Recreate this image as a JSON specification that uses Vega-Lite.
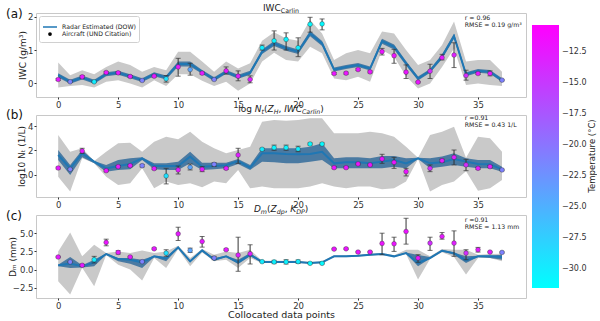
{
"$schema": "https://vega.github.io/schema/vega-lite/v6.json",
"autosize": {"type": "pad"},
"padding": {"left": 5, "top": 3, "right": 0, "bottom": 0},
"background": "white",
"spacing": 18,
"bounds": "flush",
"resolve": {"legend": {"shape": "independent", "fill": "independent", "stroke": "independent", "size": "independent"}, "scale": {"shape": "independent", "fill": "independent", "stroke": "independent", "size": "independent"}},
"config": {
  "font": "DejaVu Sans",
  "view": {"stroke": "#c8c8c8", "strokeWidth": 1},
  "axis": {"grid": false, "domain": false, "labelOverlap": false, "labelFont": "DejaVu Sans", "labelFontSize": 8.5, "labelColor": "#333", "tickColor": "#333", "tickSize": 2, "labelPadding": 1, "titleFont": "DejaVu Sans", "titleFontSize": 9, "titleFontWeight": "normal", "titleColor": "#222"},
  "legend": {"labelFont": "DejaVu Sans", "titleFont": "DejaVu Sans"}
},
"datasets": {
"iwc": [
{"i":0,"med":0.24,"lo":0.17,"hi":0.30,"min":-0.13,"max":0.62,"obs":0.11,"olo":0.08,"ohi":0.14,"t":-12.5},
{"i":1,"med":0.04,"lo":-0.02,"hi":0.10,"min":-0.09,"max":0.24,"obs":0.04,"olo":0.02,"ohi":0.06,"t":-21},
{"i":2,"med":0.17,"lo":0.11,"hi":0.23,"min":-0.06,"max":0.39,"obs":0.19,"olo":0.15,"ohi":0.23,"t":-12.5},
{"i":3,"med":0.04,"lo":-0.02,"hi":0.10,"min":-0.13,"max":0.27,"obs":0.04,"olo":0.02,"ohi":0.06,"t":-30},
{"i":4,"med":0.27,"lo":0.21,"hi":0.33,"min":0.04,"max":0.49,"obs":0.32,"olo":0.29,"ohi":0.35,"t":-12},
{"i":5,"med":0.31,"lo":0.25,"hi":0.37,"min":0.09,"max":0.65,"obs":0.31,"olo":0.28,"ohi":0.34,"t":-12.5},
{"i":6,"med":0.21,"lo":0.15,"hi":0.27,"min":-0.01,"max":0.55,"obs":0.20,"olo":0.17,"ohi":0.23,"t":-12.5},
{"i":7,"med":0.09,"lo":0.03,"hi":0.15,"min":-0.13,"max":0.34,"obs":0.08,"olo":0.06,"ohi":0.10,"t":-21},
{"i":8,"med":0.27,"lo":0.21,"hi":0.33,"min":0.09,"max":0.49,"obs":0.21,"olo":0.18,"ohi":0.24,"t":-12.5},
{"i":9,"med":0.17,"lo":0.11,"hi":0.23,"min":-0.09,"max":0.39,"obs":0.13,"olo":0.03,"ohi":0.23,"t":-29},
{"i":10,"med":0.58,"lo":0.50,"hi":0.65,"min":0.27,"max":0.95,"obs":0.49,"olo":0.21,"ohi":0.75,"t":-12.5},
{"i":11,"med":0.58,"lo":0.50,"hi":0.65,"min":0.27,"max":0.95,"obs":0.41,"olo":0.24,"ohi":0.60,"t":-24},
{"i":12,"med":0.34,"lo":0.28,"hi":0.40,"min":0.07,"max":0.65,"obs":0.30,"olo":0.27,"ohi":0.33,"t":-12.5},
{"i":13,"med":0.12,"lo":0.06,"hi":0.18,"min":-0.09,"max":0.34,"obs":0.11,"olo":0.09,"ohi":0.13,"t":-21},
{"i":14,"med":0.34,"lo":0.28,"hi":0.40,"min":0.04,"max":0.65,"obs":0.37,"olo":0.27,"ohi":0.49,"t":-12.5},
{"i":15,"med":0.19,"lo":0.13,"hi":0.25,"min":-0.23,"max":0.44,"obs":0.21,"olo":0.07,"ohi":0.37,"t":-13},
{"i":16,"med":0.31,"lo":0.25,"hi":0.37,"min":-0.01,"max":0.60,"obs":0.11,"olo":0.01,"ohi":0.22,"t":-13},
{"i":17,"med":0.95,"lo":0.88,"hi":1.02,"min":0.65,"max":1.28,"obs":1.07,"olo":1.00,"ohi":1.15,"t":-30},
{"i":18,"med":1.20,"lo":1.12,"hi":1.27,"min":0.92,"max":1.54,"obs":1.28,"olo":1.00,"ohi":1.58,"t":-30.5},
{"i":19,"med":1.05,"lo":0.98,"hi":1.12,"min":0.70,"max":1.35,"obs":1.32,"olo":1.00,"ohi":1.52,"t":-30.5},
{"i":20,"med":0.95,"lo":0.88,"hi":1.02,"min":0.65,"max":1.28,"obs":1.07,"olo":0.80,"ohi":1.37,"t":-30},
{"i":21,"med":1.50,"lo":1.42,"hi":1.58,"min":1.10,"max":1.91,"obs":1.78,"olo":1.54,"ohi":1.99,"t":-31},
{"i":22,"med":1.20,"lo":1.12,"hi":1.27,"min":0.90,"max":1.50,"obs":1.79,"olo":1.61,"ohi":1.94,"t":-31},
{"i":23,"med":0.41,"lo":0.35,"hi":0.47,"min":0.14,"max":0.70,"obs":0.29,"olo":0.26,"ohi":0.32,"t":-12},
{"i":24,"med":0.49,"lo":0.43,"hi":0.55,"min":0.09,"max":0.90,"obs":0.30,"olo":0.27,"ohi":0.33,"t":-12},
{"i":25,"med":0.55,"lo":0.49,"hi":0.61,"min":0.19,"max":1.00,"obs":0.41,"olo":0.38,"ohi":0.44,"t":-12},
{"i":26,"med":0.44,"lo":0.38,"hi":0.50,"min":0.04,"max":0.90,"obs":0.34,"olo":0.31,"ohi":0.37,"t":-12},
{"i":27,"med":1.27,"lo":1.19,"hi":1.34,"min":1.00,"max":1.56,"obs":0.95,"olo":0.85,"ohi":1.05,"t":-12},
{"i":28,"med":1.10,"lo":1.02,"hi":1.17,"min":0.80,"max":1.50,"obs":0.83,"olo":0.60,"ohi":1.02,"t":-12},
{"i":29,"med":0.60,"lo":0.53,"hi":0.67,"min":0.21,"max":1.00,"obs":0.33,"olo":0.14,"ohi":0.55,"t":-12},
{"i":30,"med":0.14,"lo":0.08,"hi":0.20,"min":-0.16,"max":0.55,"obs":0.03,"olo":0.01,"ohi":0.05,"t":-12},
{"i":31,"med":0.37,"lo":0.31,"hi":0.43,"min":-0.01,"max":0.70,"obs":0.36,"olo":0.14,"ohi":0.57,"t":-14},
{"i":32,"med":0.80,"lo":0.73,"hi":0.87,"min":0.49,"max":1.15,"obs":0.77,"olo":0.70,"ohi":0.87,"t":-12.5},
{"i":33,"med":1.42,"lo":1.34,"hi":1.50,"min":1.05,"max":1.86,"obs":0.85,"olo":0.47,"ohi":1.22,"t":-13},
{"i":34,"med":0.27,"lo":0.21,"hi":0.33,"min":-0.06,"max":0.65,"obs":0.23,"olo":0.09,"ohi":0.39,"t":-14},
{"i":35,"med":0.37,"lo":0.31,"hi":0.43,"min":-0.01,"max":0.70,"obs":0.29,"olo":0.26,"ohi":0.32,"t":-12.5},
{"i":36,"med":0.34,"lo":0.28,"hi":0.40,"min":-0.06,"max":0.70,"obs":0.29,"olo":0.22,"ohi":0.37,"t":-12.5},
{"i":37,"med":0.09,"lo":0.03,"hi":0.15,"min":-0.09,"max":0.34,"obs":0.09,"olo":0.07,"ohi":0.11,"t":-21}
],
"nt": [
{"i":0,"med":1.63,"lo":1.22,"hi":2.04,"min":-0.14,"max":3.27,"obs":0.57,"olo":0.50,"ohi":0.64,"t":-12.5},
{"i":1,"med":0.54,"lo":0.00,"hi":0.82,"min":-1.36,"max":1.90,"obs":0.46,"olo":0.40,"ohi":0.52,"t":-21},
{"i":2,"med":1.77,"lo":1.44,"hi":2.04,"min":1.36,"max":2.18,"obs":1.96,"olo":1.77,"ohi":2.18,"t":-12.5},
{"i":3,"med":1.09,"lo":0.95,"hi":1.14,"min":0.95,"max":1.14,"obs":null,"olo":null,"ohi":null,"t":-30},
{"i":4,"med":0.54,"lo":0.27,"hi":0.82,"min":-0.14,"max":1.90,"obs":0.35,"olo":0.27,"ohi":0.43,"t":-12},
{"i":5,"med":0.73,"lo":0.41,"hi":1.22,"min":-0.82,"max":2.59,"obs":0.68,"olo":0.60,"ohi":0.76,"t":-12.5},
{"i":6,"med":0.90,"lo":0.46,"hi":1.36,"min":-0.68,"max":2.64,"obs":0.76,"olo":0.68,"ohi":0.84,"t":-12.5},
{"i":7,"med":1.36,"lo":1.22,"hi":1.44,"min":0.55,"max":1.90,"obs":0.76,"olo":0.66,"ohi":0.86,"t":-21},
{"i":8,"med":0.73,"lo":0.46,"hi":0.95,"min":-1.09,"max":2.72,"obs":0.52,"olo":0.44,"ohi":0.60,"t":-12.5},
{"i":9,"med":0.73,"lo":0.41,"hi":0.95,"min":-0.54,"max":3.13,"obs":-0.08,"olo":-0.73,"ohi":0.54,"t":-29},
{"i":10,"med":0.73,"lo":0.41,"hi":1.09,"min":-0.82,"max":2.91,"obs":0.41,"olo":0.08,"ohi":0.73,"t":-12.5},
{"i":11,"med":1.50,"lo":0.95,"hi":1.90,"min":-0.68,"max":3.54,"obs":0.63,"olo":0.41,"ohi":0.90,"t":-24},
{"i":12,"med":0.68,"lo":0.41,"hi":1.00,"min":-1.00,"max":2.72,"obs":0.46,"olo":0.27,"ohi":0.68,"t":-12.5},
{"i":13,"med":0.73,"lo":0.46,"hi":1.00,"min":-0.54,"max":2.18,"obs":0.87,"olo":0.70,"ohi":1.00,"t":-21},
{"i":14,"med":0.79,"lo":0.54,"hi":1.00,"min":-0.68,"max":1.77,"obs":0.54,"olo":0.46,"ohi":0.62,"t":-12.5},
{"i":15,"med":1.14,"lo":0.90,"hi":1.31,"min":0.41,"max":2.04,"obs":1.63,"olo":0.95,"ohi":2.18,"t":-13},
{"i":16,"med":0.60,"lo":0.41,"hi":0.82,"min":-1.09,"max":2.31,"obs":null,"olo":null,"ohi":null,"t":-13},
{"i":17,"med":1.77,"lo":1.09,"hi":2.18,"min":-0.95,"max":4.35,"obs":2.10,"olo":2.02,"ohi":2.18,"t":-30},
{"i":18,"med":1.77,"lo":1.03,"hi":2.18,"min":-1.09,"max":4.49,"obs":2.23,"olo":2.02,"ohi":2.44,"t":-30.5},
{"i":19,"med":1.71,"lo":0.95,"hi":2.18,"min":-1.09,"max":4.44,"obs":2.23,"olo":2.02,"ohi":2.44,"t":-30.5},
{"i":20,"med":1.69,"lo":0.95,"hi":2.18,"min":-1.09,"max":4.49,"obs":2.12,"olo":1.90,"ohi":2.35,"t":-30},
{"i":21,"med":1.71,"lo":1.09,"hi":2.31,"min":-0.95,"max":4.63,"obs":2.53,"olo":2.45,"ohi":2.61,"t":-31},
{"i":22,"med":1.90,"lo":1.22,"hi":2.59,"min":-0.68,"max":4.63,"obs":2.53,"olo":2.45,"ohi":2.61,"t":-31},
{"i":23,"med":0.95,"lo":0.54,"hi":1.36,"min":-0.95,"max":3.40,"obs":0.60,"olo":0.52,"ohi":0.68,"t":-12},
{"i":24,"med":1.03,"lo":0.54,"hi":1.44,"min":-1.09,"max":3.40,"obs":0.60,"olo":0.52,"ohi":0.68,"t":-12},
{"i":25,"med":1.03,"lo":0.54,"hi":1.44,"min":-0.95,"max":3.40,"obs":0.90,"olo":0.84,"ohi":0.96,"t":-12},
{"i":26,"med":0.95,"lo":0.54,"hi":1.36,"min":-0.95,"max":3.54,"obs":0.82,"olo":0.76,"ohi":0.88,"t":-12},
{"i":27,"med":1.09,"lo":0.54,"hi":1.55,"min":-1.17,"max":3.40,"obs":1.31,"olo":0.95,"ohi":1.69,"t":-12},
{"i":28,"med":1.22,"lo":0.68,"hi":1.55,"min":-1.09,"max":3.13,"obs":1.03,"olo":0.54,"ohi":1.44,"t":-12},
{"i":29,"med":0.95,"lo":0.54,"hi":1.36,"min":-0.54,"max":2.31,"obs":0.27,"olo":-0.08,"ohi":0.54,"t":-12},
{"i":30,"med":1.36,"lo":1.30,"hi":1.40,"min":1.30,"max":1.40,"obs":null,"olo":null,"ohi":null,"t":-12},
{"i":31,"med":0.95,"lo":0.54,"hi":1.36,"min":-1.36,"max":3.27,"obs":0.54,"olo":0.27,"ohi":0.82,"t":-14},
{"i":32,"med":1.03,"lo":0.68,"hi":1.50,"min":-0.82,"max":3.54,"obs":1.17,"olo":1.05,"ohi":1.29,"t":-12.5},
{"i":33,"med":1.31,"lo":0.82,"hi":1.77,"min":-0.54,"max":3.95,"obs":1.44,"olo":0.82,"ohi":2.04,"t":-13},
{"i":34,"med":1.09,"lo":0.68,"hi":1.36,"min":0.30,"max":1.40,"obs":0.82,"olo":0.35,"ohi":1.28,"t":-14},
{"i":35,"med":0.90,"lo":0.54,"hi":1.22,"min":-1.28,"max":3.13,"obs":0.54,"olo":0.46,"ohi":0.62,"t":-12.5},
{"i":36,"med":0.87,"lo":0.54,"hi":1.22,"min":-1.09,"max":3.00,"obs":0.68,"olo":0.60,"ohi":0.76,"t":-12.5},
{"i":37,"med":0.46,"lo":0.27,"hi":0.68,"min":-0.41,"max":1.90,"obs":0.41,"olo":0.35,"ohi":0.47,"t":-21}
],
"dm": [
{"i":0,"med":0.59,"lo":0.45,"hi":0.68,"min":-1.59,"max":2.50,"obs":1.73,"olo":1.64,"ohi":1.82,"t":-12.5},
{"i":1,"med":0.82,"lo":0.23,"hi":1.73,"min":-3.41,"max":5.09,"obs":1.05,"olo":0.98,"ohi":1.12,"t":-21},
{"i":2,"med":0.45,"lo":0.30,"hi":0.60,"min":0.25,"max":1.82,"obs":0.59,"olo":0.45,"ohi":0.73,"t":-12.5},
{"i":3,"med":1.00,"lo":0.45,"hi":1.36,"min":-2.27,"max":3.41,"obs":1.36,"olo":0.91,"ohi":1.82,"t":-30},
{"i":4,"med":2.14,"lo":2.05,"hi":2.23,"min":2.00,"max":2.27,"obs":3.73,"olo":3.27,"ohi":4.18,"t":-12},
{"i":5,"med":1.45,"lo":1.14,"hi":1.59,"min":0.68,"max":2.50,"obs":2.36,"olo":2.14,"ohi":2.59,"t":-12.5},
{"i":6,"med":1.36,"lo":0.82,"hi":1.59,"min":0.00,"max":2.27,"obs":1.73,"olo":1.64,"ohi":1.82,"t":-12.5},
{"i":7,"med":1.00,"lo":0.23,"hi":1.36,"min":-1.50,"max":2.64,"obs":1.09,"olo":1.00,"ohi":1.18,"t":-21},
{"i":8,"med":1.82,"lo":1.73,"hi":1.91,"min":1.59,"max":2.27,"obs":2.86,"olo":2.75,"ohi":2.97,"t":-12.5},
{"i":9,"med":1.55,"lo":1.14,"hi":1.73,"min":0.23,"max":2.50,"obs":2.27,"olo":1.82,"ohi":2.73,"t":-29},
{"i":10,"med":3.05,"lo":2.95,"hi":3.14,"min":2.82,"max":3.27,"obs":4.91,"olo":4.00,"ohi":5.82,"t":-12.5},
{"i":11,"med":1.14,"lo":1.05,"hi":1.23,"min":0.45,"max":1.59,"obs":2.64,"olo":2.36,"ohi":2.95,"t":-24},
{"i":12,"med":2.64,"lo":2.50,"hi":2.73,"min":2.36,"max":2.82,"obs":3.86,"olo":3.09,"ohi":4.55,"t":-12.5},
{"i":13,"med":1.36,"lo":1.23,"hi":1.59,"min":1.14,"max":2.05,"obs":1.59,"olo":1.36,"ohi":1.82,"t":-21},
{"i":14,"med":1.82,"lo":1.73,"hi":1.91,"min":1.36,"max":2.50,"obs":2.73,"olo":2.62,"ohi":2.84,"t":-12.5},
{"i":15,"med":1.00,"lo":0.77,"hi":1.36,"min":0.23,"max":2.27,"obs":2.00,"olo":-0.23,"ohi":4.45,"t":-13},
{"i":16,"med":2.05,"lo":1.82,"hi":2.27,"min":1.59,"max":2.73,"obs":2.18,"olo":0.77,"ohi":3.41,"t":-13},
{"i":17,"med":1.05,"lo":1.00,"hi":1.10,"min":0.90,"max":1.20,"obs":1.09,"olo":1.00,"ohi":1.18,"t":-30},
{"i":18,"med":1.05,"lo":1.00,"hi":1.10,"min":0.90,"max":1.20,"obs":1.05,"olo":0.82,"ohi":1.27,"t":-30.5},
{"i":19,"med":1.05,"lo":1.00,"hi":1.10,"min":0.90,"max":1.20,"obs":1.05,"olo":0.77,"ohi":1.36,"t":-30.5},
{"i":20,"med":1.05,"lo":1.00,"hi":1.10,"min":0.90,"max":1.20,"obs":1.09,"olo":0.86,"ohi":1.32,"t":-30},
{"i":21,"med":0.91,"lo":0.86,"hi":0.96,"min":0.76,"max":1.06,"obs":0.86,"olo":0.78,"ohi":0.94,"t":-31},
{"i":22,"med":1.00,"lo":0.95,"hi":1.05,"min":0.85,"max":1.15,"obs":0.86,"olo":0.78,"ohi":0.94,"t":-31},
{"i":23,"med":1.82,"lo":1.75,"hi":1.88,"min":1.68,"max":1.96,"obs":2.82,"olo":2.73,"ohi":2.91,"t":-12},
{"i":24,"med":1.82,"lo":1.75,"hi":1.88,"min":1.68,"max":1.96,"obs":2.86,"olo":2.77,"ohi":2.95,"t":-12},
{"i":25,"med":1.91,"lo":1.84,"hi":1.97,"min":1.77,"max":2.05,"obs":2.41,"olo":2.32,"ohi":2.50,"t":-12},
{"i":26,"med":2.05,"lo":1.98,"hi":2.11,"min":1.91,"max":2.19,"obs":2.41,"olo":2.32,"ohi":2.50,"t":-12},
{"i":27,"med":2.14,"lo":2.07,"hi":2.20,"min":2.00,"max":2.28,"obs":3.59,"olo":2.05,"ohi":5.00,"t":-12},
{"i":28,"med":1.82,"lo":1.75,"hi":1.88,"min":1.68,"max":1.96,"obs":3.55,"olo":2.50,"ohi":4.45,"t":-12},
{"i":29,"med":2.27,"lo":2.20,"hi":2.35,"min":2.14,"max":2.73,"obs":5.23,"olo":3.50,"ohi":7.05,"t":-12},
{"i":30,"med":0.91,"lo":0.45,"hi":2.00,"min":-1.36,"max":2.73,"obs":1.59,"olo":1.00,"ohi":2.05,"t":-12},
{"i":31,"med":1.59,"lo":1.52,"hi":1.72,"min":1.45,"max":1.82,"obs":3.64,"olo":2.64,"ohi":4.45,"t":-14},
{"i":32,"med":2.59,"lo":2.50,"hi":2.73,"min":2.40,"max":2.82,"obs":4.55,"olo":4.18,"ohi":5.09,"t":-12.5},
{"i":33,"med":2.27,"lo":2.05,"hi":2.36,"min":1.73,"max":2.73,"obs":3.64,"olo":1.82,"ohi":5.32,"t":-13},
{"i":34,"med":1.27,"lo":0.91,"hi":1.82,"min":-0.68,"max":2.73,"obs":2.27,"olo":1.36,"ohi":2.73,"t":-14},
{"i":35,"med":1.82,"lo":1.73,"hi":1.91,"min":1.59,"max":2.05,"obs":2.73,"olo":2.41,"ohi":3.05,"t":-12.5},
{"i":36,"med":1.82,"lo":1.59,"hi":1.95,"min":1.59,"max":2.14,"obs":2.41,"olo":2.32,"ohi":2.50,"t":-12.5},
{"i":37,"med":1.73,"lo":1.36,"hi":2.05,"min":1.14,"max":2.18,"obs":2.36,"olo":2.27,"ohi":2.45,"t":-21}
]
},
"vconcat": [
{
  "width": 490, "height": 84,
  "data": {"name": "iwc"},
  "layer": [
    {"mark": {"type": "area", "color": "#c9c9c9"},
     "encoding": {
       "x": {"field": "i", "type": "quantitative", "scale": {"domain": [-1.85, 39], "nice": false, "zero": false}, "axis": {"values": [0,5,10,15,20,25,30,35], "tickCount": 20, "format": "d", "title": null}},
       "y": {"field": "min", "type": "quantitative", "title": "IWC (g/m³)", "scale": {"domain": [-0.42, 2.12], "nice": false, "zero": false}, "axis": {"values": [0,1,2], "tickCount": 10, "format": "d", "titleX": -14, "titleBaseline": "middle"}},
       "y2": {"field": "max"}}},
    {"mark": {"type": "area", "color": "#4a7aa2"},
     "encoding": {"x": {"field": "i", "type": "quantitative"}, "y": {"field": "lo", "type": "quantitative", "title": "IWC (g/m³)"}, "y2": {"field": "hi"}}},
    {"mark": {"type": "line", "color": "#1f77b4", "strokeWidth": 2},
     "encoding": {"x": {"field": "i", "type": "quantitative"}, "y": {"field": "med", "type": "quantitative", "title": "IWC (g/m³)"}}},
    {"transform": [{"filter": "isValid(datum.obs)"}],
     "mark": {"type": "rule", "color": "#333", "strokeWidth": 1},
     "encoding": {"x": {"field": "i", "type": "quantitative"}, "y": {"field": "olo", "type": "quantitative", "title": "IWC (g/m³)"}, "y2": {"field": "ohi"}}},
    {"transform": [{"filter": "isValid(datum.obs)"}],
     "mark": {"type": "tick", "orient": "horizontal", "color": "#333", "size": 5, "thickness": 1},
     "encoding": {"x": {"field": "i", "type": "quantitative"}, "y": {"field": "olo", "type": "quantitative", "title": "IWC (g/m³)"}}},
    {"transform": [{"filter": "isValid(datum.obs)"}],
     "mark": {"type": "tick", "orient": "horizontal", "color": "#333", "size": 5, "thickness": 1},
     "encoding": {"x": {"field": "i", "type": "quantitative"}, "y": {"field": "ohi", "type": "quantitative", "title": "IWC (g/m³)"}}},
    {"transform": [{"filter": "isValid(datum.obs)"}],
     "mark": {"type": "point", "filled": true, "size": 22, "opacity": 1, "stroke": "#333", "strokeWidth": 0.4},
     "encoding": {
       "x": {"field": "i", "type": "quantitative"},
       "y": {"field": "obs", "type": "quantitative", "title": "IWC (g/m³)"},
       "color": {"field": "t", "type": "quantitative", "scale": {"domain": [-31.5, -10.3], "range": ["#00ffff", "#ff00ff"], "interpolate": "rgb"},
         "legend": {"title": null, "orient": "none", "legendX": 496, "legendY": 12, "direction": "vertical", "gradientLength": 263, "gradientThickness": 27, "gradientStrokeWidth": 0, "values": [-30,-27.5,-25,-22.5,-20,-17.5,-15,-12.5], "format": ".1f", "labelFontSize": 8, "labelColor": "#333", "labelOffset": 3}}}},
    {"data": {"values": [{"s": "Radar Estimated (DOW)"}, {"s": "Aircraft (UND Citation)"}]},
     "mark": {"type": "point", "filled": true, "clip": true, "strokeWidth": 1.5, "opacity": 1},
     "encoding": {
       "x": {"datum": -50},
       "y": {"datum": 1},
       "shape": {"field": "s", "type": "nominal", "scale": {"domain": ["Radar Estimated (DOW)", "Aircraft (UND Citation)"], "range": ["stroke", "circle"]},
         "legend": {"title": null, "orient": "top-left", "offset": 2.5, "padding": 3, "strokeColor": "#d0d0d0", "fillColor": "white", "cornerRadius": 2, "labelFontSize": 6.2, "labelColor": "#222", "labelOffset": 4, "rowPadding": -6, "symbolStrokeWidth": 1.5}},
       "fill": {"field": "s", "type": "nominal", "scale": {"domain": ["Radar Estimated (DOW)", "Aircraft (UND Citation)"], "range": ["#1f77b4", "black"]}, "legend": {"title": null}},
       "stroke": {"field": "s", "type": "nominal", "scale": {"domain": ["Radar Estimated (DOW)", "Aircraft (UND Citation)"], "range": ["#1f77b4", "black"]}, "legend": {"title": null}},
       "size": {"field": "s", "type": "nominal", "scale": {"domain": ["Radar Estimated (DOW)", "Aircraft (UND Citation)"], "range": [196, 5]}, "legend": {"title": null}}}},
    {"data": {"values": [{}]}, "mark": {"type": "text", "text": "(a)", "align": "left", "baseline": "middle", "fontSize": 12, "color": "#111", "clip": false}, "encoding": {"x": {"datum": -4.35}, "y": {"datum": 2.09}}},
    {"data": {"values": [{}]}, "mark": {"type": "text", "text": ["r = 0.96", "RMSE = 0.19 g/m³"], "align": "left", "baseline": "top", "fontSize": 6.2, "lineHeight": 7, "color": "#222", "clip": false}, "encoding": {"x": {"datum": 33.9}, "y": {"datum": 2.06}}},
    {"data": {"values": [{}]}, "mark": {"type": "text", "text": "IWC", "align": "left", "baseline": "alphabetic", "fontSize": 9, "color": "#222", "clip": false}, "encoding": {"x": {"datum": 17.07}, "y": {"datum": 2.18}}},
    {"data": {"values": [{}]}, "mark": {"type": "text", "text": "Carlin", "align": "left", "baseline": "alphabetic", "fontSize": 6.3, "dx": 17.8, "dy": 2, "color": "#222", "clip": false}, "encoding": {"x": {"datum": 17.07}, "y": {"datum": 2.18}}}
  ]
},
{
  "width": 490, "height": 82,
  "data": {"name": "nt"},
  "layer": [
    {"mark": {"type": "area", "color": "#c9c9c9"},
     "encoding": {
       "x": {"field": "i", "type": "quantitative", "scale": {"domain": [-1.85, 39], "nice": false, "zero": false}, "axis": {"values": [0,5,10,15,20,25,30,35], "tickCount": 20, "format": "d", "title": null}},
       "y": {"field": "min", "type": "quantitative", "title": "log10 Nₜ (1/L)", "scale": {"domain": [-1.8, 4.9], "nice": false, "zero": false}, "axis": {"values": [0,2,4], "tickCount": 10, "format": "d", "titleX": -14.5, "titleBaseline": "middle"}},
       "y2": {"field": "max"}}},
    {"mark": {"type": "area", "color": "#4a7aa2"},
     "encoding": {"x": {"field": "i", "type": "quantitative"}, "y": {"field": "lo", "type": "quantitative", "title": "log10 Nₜ (1/L)"}, "y2": {"field": "hi"}}},
    {"mark": {"type": "line", "color": "#1f77b4", "strokeWidth": 2},
     "encoding": {"x": {"field": "i", "type": "quantitative"}, "y": {"field": "med", "type": "quantitative", "title": "log10 Nₜ (1/L)"}}},
    {"transform": [{"filter": "isValid(datum.obs)"}],
     "mark": {"type": "rule", "color": "#333", "strokeWidth": 1},
     "encoding": {"x": {"field": "i", "type": "quantitative"}, "y": {"field": "olo", "type": "quantitative", "title": "log10 Nₜ (1/L)"}, "y2": {"field": "ohi"}}},
    {"transform": [{"filter": "isValid(datum.obs)"}],
     "mark": {"type": "tick", "orient": "horizontal", "color": "#333", "size": 5, "thickness": 1},
     "encoding": {"x": {"field": "i", "type": "quantitative"}, "y": {"field": "olo", "type": "quantitative", "title": "log10 Nₜ (1/L)"}}},
    {"transform": [{"filter": "isValid(datum.obs)"}],
     "mark": {"type": "tick", "orient": "horizontal", "color": "#333", "size": 5, "thickness": 1},
     "encoding": {"x": {"field": "i", "type": "quantitative"}, "y": {"field": "ohi", "type": "quantitative", "title": "log10 Nₜ (1/L)"}}},
    {"transform": [{"filter": "isValid(datum.obs)"}],
     "mark": {"type": "point", "filled": true, "size": 22, "opacity": 1, "stroke": "#333", "strokeWidth": 0.4},
     "encoding": {
       "x": {"field": "i", "type": "quantitative"},
       "y": {"field": "obs", "type": "quantitative", "title": "log10 Nₜ (1/L)"},
       "color": {"field": "t", "type": "quantitative", "scale": {"domain": [-31.5, -10.3], "range": ["#00ffff", "#ff00ff"], "interpolate": "rgb"}}}},
    {"data": {"values": [{}]}, "mark": {"type": "text", "text": "Temperature (°C)", "align": "center", "baseline": "middle", "angle": 270, "fontSize": 8.5, "fill": "#222", "opacity": 1, "clip": false}, "encoding": {"x": {"datum": 44.5}, "y": {"datum": 1.55}}},
    {"data": {"values": [{}]}, "mark": {"type": "text", "text": "(b)", "align": "left", "baseline": "middle", "fontSize": 12, "color": "#111", "clip": false}, "encoding": {"x": {"datum": -4.35}, "y": {"datum": 4.9}}},
    {"data": {"values": [{}]}, "mark": {"type": "text", "text": ["r =0.91", "RMSE = 0.43 1/L"], "align": "left", "baseline": "top", "fontSize": 6.2, "lineHeight": 7, "color": "#222", "clip": false}, "encoding": {"x": {"datum": 33.9}, "y": {"datum": 4.9}}},
    {"data": {"values": [{}]}, "mark": {"type": "text", "text": "log ", "align": "left", "baseline": "alphabetic", "fontSize": 9, "dx": 0, "color": "#222", "clip": false}, "encoding": {"x": {"datum": 15.01}, "y": {"datum": 5.15}}},
    {"data": {"values": [{}]}, "mark": {"type": "text", "text": "N", "align": "left", "baseline": "alphabetic", "fontSize": 9, "fontStyle": "italic", "dx": 16.6, "color": "#222", "clip": false}, "encoding": {"x": {"datum": 15.01}, "y": {"datum": 5.15}}},
    {"data": {"values": [{}]}, "mark": {"type": "text", "text": "t", "align": "left", "baseline": "alphabetic", "fontSize": 6.3, "fontStyle": "italic", "dx": 23.3, "dy": 2, "color": "#222", "clip": false}, "encoding": {"x": {"datum": 15.01}, "y": {"datum": 5.15}}},
    {"data": {"values": [{}]}, "mark": {"type": "text", "text": "(", "align": "left", "baseline": "alphabetic", "fontSize": 9, "dx": 25.8, "color": "#222", "clip": false}, "encoding": {"x": {"datum": 15.01}, "y": {"datum": 5.15}}},
    {"data": {"values": [{}]}, "mark": {"type": "text", "text": "Z", "align": "left", "baseline": "alphabetic", "fontSize": 9, "fontStyle": "italic", "dx": 29.3, "color": "#222", "clip": false}, "encoding": {"x": {"datum": 15.01}, "y": {"datum": 5.15}}},
    {"data": {"values": [{}]}, "mark": {"type": "text", "text": "H", "align": "left", "baseline": "alphabetic", "fontSize": 6.3, "fontStyle": "italic", "dx": 35.5, "dy": 2, "color": "#222", "clip": false}, "encoding": {"x": {"datum": 15.01}, "y": {"datum": 5.15}}},
    {"data": {"values": [{}]}, "mark": {"type": "text", "text": ",", "align": "left", "baseline": "alphabetic", "fontSize": 9, "dx": 40.2, "color": "#222", "clip": false}, "encoding": {"x": {"datum": 15.01}, "y": {"datum": 5.15}}},
    {"data": {"values": [{}]}, "mark": {"type": "text", "text": "IWC", "align": "left", "baseline": "alphabetic", "fontSize": 9, "fontStyle": "italic", "dx": 45.9, "color": "#222", "clip": false}, "encoding": {"x": {"datum": 15.01}, "y": {"datum": 5.15}}},
    {"data": {"values": [{}]}, "mark": {"type": "text", "text": "Carlin", "align": "left", "baseline": "alphabetic", "fontSize": 6.3, "fontStyle": "italic", "dx": 63.7, "dy": 2, "color": "#222", "clip": false}, "encoding": {"x": {"datum": 15.01}, "y": {"datum": 5.15}}},
    {"data": {"values": [{}]}, "mark": {"type": "text", "text": ")", "align": "left", "baseline": "alphabetic", "fontSize": 9, "dx": 82.0, "color": "#222", "clip": false}, "encoding": {"x": {"datum": 15.01}, "y": {"datum": 5.15}}}
  ]
},
{
  "width": 490, "height": 83,
  "data": {"name": "dm"},
  "layer": [
    {"mark": {"type": "area", "color": "#c9c9c9"},
     "encoding": {
       "x": {"field": "i", "type": "quantitative", "scale": {"domain": [-1.85, 39], "nice": false, "zero": false}, "axis": {"values": [0,5,10,15,20,25,30,35], "tickCount": 20, "format": "d", "title": "Collocated data points", "titlePadding": 0, "titleFontSize": 9.5}},
       "y": {"field": "min", "type": "quantitative", "title": "Dₘ (mm)", "scale": {"domain": [-3.9, 7.5], "nice": false, "zero": false}, "axis": {"values": [-2.5, 0, 2.5, 5], "tickCount": 10, "format": ".1f", "titleX": -24, "titleBaseline": "middle"}},
       "y2": {"field": "max"}}},
    {"mark": {"type": "area", "color": "#4a7aa2"},
     "encoding": {"x": {"field": "i", "type": "quantitative"}, "y": {"field": "lo", "type": "quantitative", "title": "Dₘ (mm)"}, "y2": {"field": "hi"}}},
    {"mark": {"type": "line", "color": "#1f77b4", "strokeWidth": 2},
     "encoding": {"x": {"field": "i", "type": "quantitative"}, "y": {"field": "med", "type": "quantitative", "title": "Dₘ (mm)"}}},
    {"transform": [{"filter": "isValid(datum.obs)"}],
     "mark": {"type": "rule", "color": "#333", "strokeWidth": 1},
     "encoding": {"x": {"field": "i", "type": "quantitative"}, "y": {"field": "olo", "type": "quantitative", "title": "Dₘ (mm)"}, "y2": {"field": "ohi"}}},
    {"transform": [{"filter": "isValid(datum.obs)"}],
     "mark": {"type": "tick", "orient": "horizontal", "color": "#333", "size": 5, "thickness": 1},
     "encoding": {"x": {"field": "i", "type": "quantitative"}, "y": {"field": "olo", "type": "quantitative", "title": "Dₘ (mm)"}}},
    {"transform": [{"filter": "isValid(datum.obs)"}],
     "mark": {"type": "tick", "orient": "horizontal", "color": "#333", "size": 5, "thickness": 1},
     "encoding": {"x": {"field": "i", "type": "quantitative"}, "y": {"field": "ohi", "type": "quantitative", "title": "Dₘ (mm)"}}},
    {"transform": [{"filter": "isValid(datum.obs)"}],
     "mark": {"type": "point", "filled": true, "size": 22, "opacity": 1, "stroke": "#333", "strokeWidth": 0.4},
     "encoding": {
       "x": {"field": "i", "type": "quantitative"},
       "y": {"field": "obs", "type": "quantitative", "title": "Dₘ (mm)"},
       "color": {"field": "t", "type": "quantitative", "scale": {"domain": [-31.5, -10.3], "range": ["#00ffff", "#ff00ff"], "interpolate": "rgb"}}}},
    {"data": {"values": [{}]}, "mark": {"type": "text", "text": "(c)", "align": "left", "baseline": "middle", "fontSize": 12, "color": "#111", "clip": false}, "encoding": {"x": {"datum": -4.35}, "y": {"datum": 7.36}}},
    {"data": {"values": [{}]}, "mark": {"type": "text", "text": ["r =0.91", "RMSE = 1.13 mm"], "align": "left", "baseline": "top", "fontSize": 6.2, "lineHeight": 7, "color": "#222", "clip": false}, "encoding": {"x": {"datum": 33.9}, "y": {"datum": 7.22}}},
    {"data": {"values": [{}]}, "mark": {"type": "text", "text": "D", "align": "left", "baseline": "alphabetic", "fontSize": 9, "fontStyle": "italic", "dx": 0, "color": "#222", "clip": false}, "encoding": {"x": {"datum": 16.32}, "y": {"datum": 7.91}}},
    {"data": {"values": [{}]}, "mark": {"type": "text", "text": "m", "align": "left", "baseline": "alphabetic", "fontSize": 6.3, "fontStyle": "italic", "dx": 6.9, "dy": 2, "color": "#222", "clip": false}, "encoding": {"x": {"datum": 16.32}, "y": {"datum": 7.91}}},
    {"data": {"values": [{}]}, "mark": {"type": "text", "text": "(", "align": "left", "baseline": "alphabetic", "fontSize": 9, "dx": 13.0, "color": "#222", "clip": false}, "encoding": {"x": {"datum": 16.32}, "y": {"datum": 7.91}}},
    {"data": {"values": [{}]}, "mark": {"type": "text", "text": "Z", "align": "left", "baseline": "alphabetic", "fontSize": 9, "fontStyle": "italic", "dx": 16.5, "color": "#222", "clip": false}, "encoding": {"x": {"datum": 16.32}, "y": {"datum": 7.91}}},
    {"data": {"values": [{}]}, "mark": {"type": "text", "text": "dp", "align": "left", "baseline": "alphabetic", "fontSize": 6.3, "fontStyle": "italic", "dx": 22.7, "dy": 2, "color": "#222", "clip": false}, "encoding": {"x": {"datum": 16.32}, "y": {"datum": 7.91}}},
    {"data": {"values": [{}]}, "mark": {"type": "text", "text": ",", "align": "left", "baseline": "alphabetic", "fontSize": 9, "dx": 30.7, "color": "#222", "clip": false}, "encoding": {"x": {"datum": 16.32}, "y": {"datum": 7.91}}},
    {"data": {"values": [{}]}, "mark": {"type": "text", "text": "K", "align": "left", "baseline": "alphabetic", "fontSize": 9, "fontStyle": "italic", "dx": 36.4, "color": "#222", "clip": false}, "encoding": {"x": {"datum": 16.32}, "y": {"datum": 7.91}}},
    {"data": {"values": [{}]}, "mark": {"type": "text", "text": "DP", "align": "left", "baseline": "alphabetic", "fontSize": 6.3, "fontStyle": "italic", "dx": 42.3, "dy": 2, "color": "#222", "clip": false}, "encoding": {"x": {"datum": 16.32}, "y": {"datum": 7.91}}},
    {"data": {"values": [{}]}, "mark": {"type": "text", "text": ")", "align": "left", "baseline": "alphabetic", "fontSize": 9, "dx": 50.9, "color": "#222", "clip": false}, "encoding": {"x": {"datum": 16.32}, "y": {"datum": 7.91}}}
  ]
}
]
}
